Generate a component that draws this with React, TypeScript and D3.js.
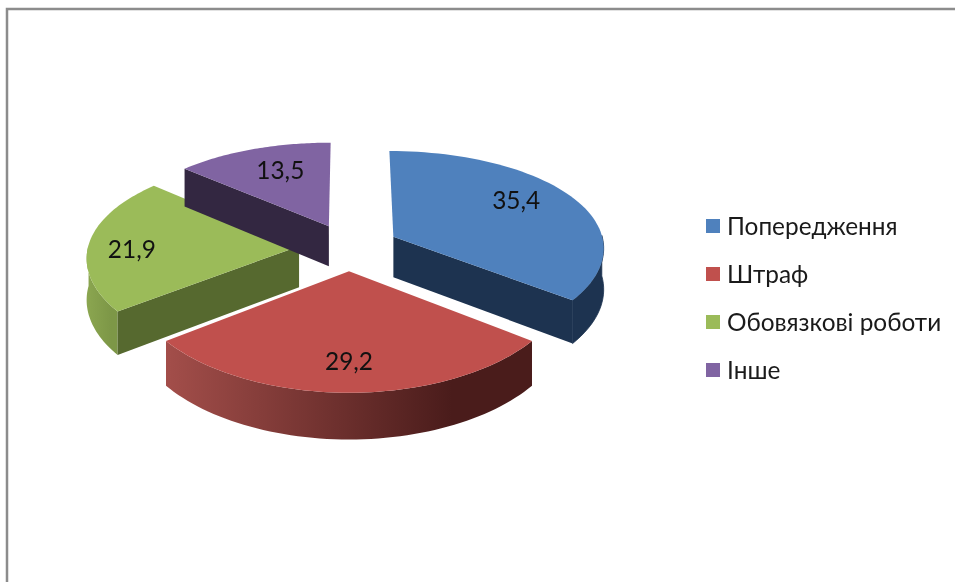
import React, { useEffect, useRef } from "react";
import * as d3 from "d3";

const categories = ["Попередження", "Штраф", "Обовязкові роботи", "Інше"];
const values = [35.4, 29.2, 21.9, 13.5];
const valueLabels = ["35,4", "29,2", "21,9", "13,5"];

const topColors = ["#4f81bd", "#c0504d", "#9bbb59", "#8064a2"];
const cutColors = ["#1d3350", "#4f1f1d", "#56692f", "#332741"];
const wallStops = [
    ["#1d3350", "#1d3350"],
    ["#a34e4a", "#4a1c1b"],
    ["#8ba650", "#7d9747"],
    ["#332741", "#332741"],
];
// label anchor inside each slice, as fraction of the radius from its apex
const labelSpots = [[0.62, 0.4], [0, -0.77], [-0.79, -0.03], [-0.256, 0.645]];

const W = 955;
const H = 582;
const cx = 349;
const cy = 247;
const R = 211;
const tilt = 0.47;
const perspX = 0.1;
const perspY = 0.128;
const explode = 50;
const depth = 41;

const project = (u: number, v: number, z = 0): [number, number] => {
    const fx = 1 / (1 + (perspX * v) / R);
    const fy = 1 / (1 + (perspY * v) / R);
    return [cx + u * fx, cy - v * tilt * fy + z * fx];
};

const App = () => {
    const ref = useRef<SVGSVGElement>(null);

    useEffect(() => {
        const svg = d3.select(ref.current);
        svg.selectAll("*").remove();

        const defs = svg.append("defs");
        const line = d3.line();
        const arcs = d3.pie<number>().sort(null)(values);

        // frame, only top and left are in the picture
        svg.append("path")
            .attr("d", line([[7, H], [7, 9], [W, 9]]))
            .attr("fill", "none")
            .attr("stroke", "#8c8c8c")
            .attr("stroke-width", 2.5);

        arcs.forEach((arc, i) => {
            const mid = (arc.startAngle + arc.endAngle) / 2;
            const ou = explode * Math.sin(mid);
            const ov = explode * Math.cos(mid);
            const rim = (a: number, z = 0) =>
                project(ou + R * Math.sin(a), ov + R * Math.cos(a), z);
            const apex = (z = 0) => project(ou, ov, z);

            const angles = d3.range(0, 61).map(t =>
                arc.startAngle + ((arc.endAngle - arc.startAngle) * t) / 60);
            const g = svg.append("g");

            // outer wall, only the part facing the viewer
            const front = angles.filter(a => Math.cos(a) < 0.02);
            if (front.length > 1) {
                const id = `wall${i}`;
                const xs = front.map(a => rim(a)[0]);
                const grad = defs.append("linearGradient")
                    .attr("id", id)
                    .attr("gradientUnits", "userSpaceOnUse")
                    .attr("x1", d3.min(xs)!)
                    .attr("x2", d3.max(xs)!)
                    .attr("y1", 0)
                    .attr("y2", 0);
                grad.append("stop").attr("offset", 0).attr("stop-color", wallStops[i][0]);
                grad.append("stop").attr("offset", 0.78).attr("stop-color", wallStops[i][1]);
                g.append("path")
                    .attr("d", line([
                        ...front.map(a => rim(a)),
                        ...front.slice().reverse().map(a => rim(a, depth)),
                    ]) + "Z")
                    .attr("fill", `url(#${id})`)
                    .attr("stroke", i === 0 ? cutColors[i] : "none")
                    .attr("stroke-width", 0.8);
            }

            // cut faces that look toward the viewer
            const cuts: number[] = [];
            if (i === 0) cuts.push(arc.endAngle);
            if (i >= 2) cuts.push(arc.startAngle);
            cuts.forEach(a => {
                g.append("path")
                    .attr("d", line([apex(), rim(a), rim(a, depth), apex(depth)]) + "Z")
                    .attr("fill", cutColors[i]);
            });

            // top face
            g.append("path")
                .attr("d", line([apex(), ...angles.map(a => rim(a))]) + "Z")
                .attr("fill", topColors[i]);

            const [lu, lv] = labelSpots[i];
            const [lx, ly] = project(ou + lu * R, ov + lv * R);
            g.append("text")
                .attr("x", lx)
                .attr("y", ly)
                .attr("dy", "0.35em")
                .attr("text-anchor", "middle")
                .attr("font-family", "Lato, 'Open Sans', sans-serif")
                .attr("font-size", 24.4)
                .attr("fill", "#111")
                .text(valueLabels[i]);
        });

        // legend
        const legendY = d3.scalePoint<string>()
            .domain(categories)
            .range([226, 370]);
        const legend = svg.append("g")
            .selectAll("g")
            .data(categories)
            .join("g")
            .attr("transform", d => `translate(706,${legendY(d)})`);
        legend.append("rect")
            .attr("y", -7)
            .attr("width", 14)
            .attr("height", 14)
            .attr("fill", (d, i) => topColors[i]);
        legend.append("text")
            .attr("x", 21)
            .attr("dy", "0.35em")
            .attr("font-family", "Lato, 'Open Sans', sans-serif")
            .attr("font-size", 24.4)
            .attr("fill", "#1a1a1a")
            .text(d => d);
    }, []);

    return (
        <svg
            ref={ref}
            width={W}
            height={H}
            style={{ position: "absolute", left: 0, top: 0, background: "#fff", filter: "blur(0.4px)" }}
        />
    );
};

export default App;
